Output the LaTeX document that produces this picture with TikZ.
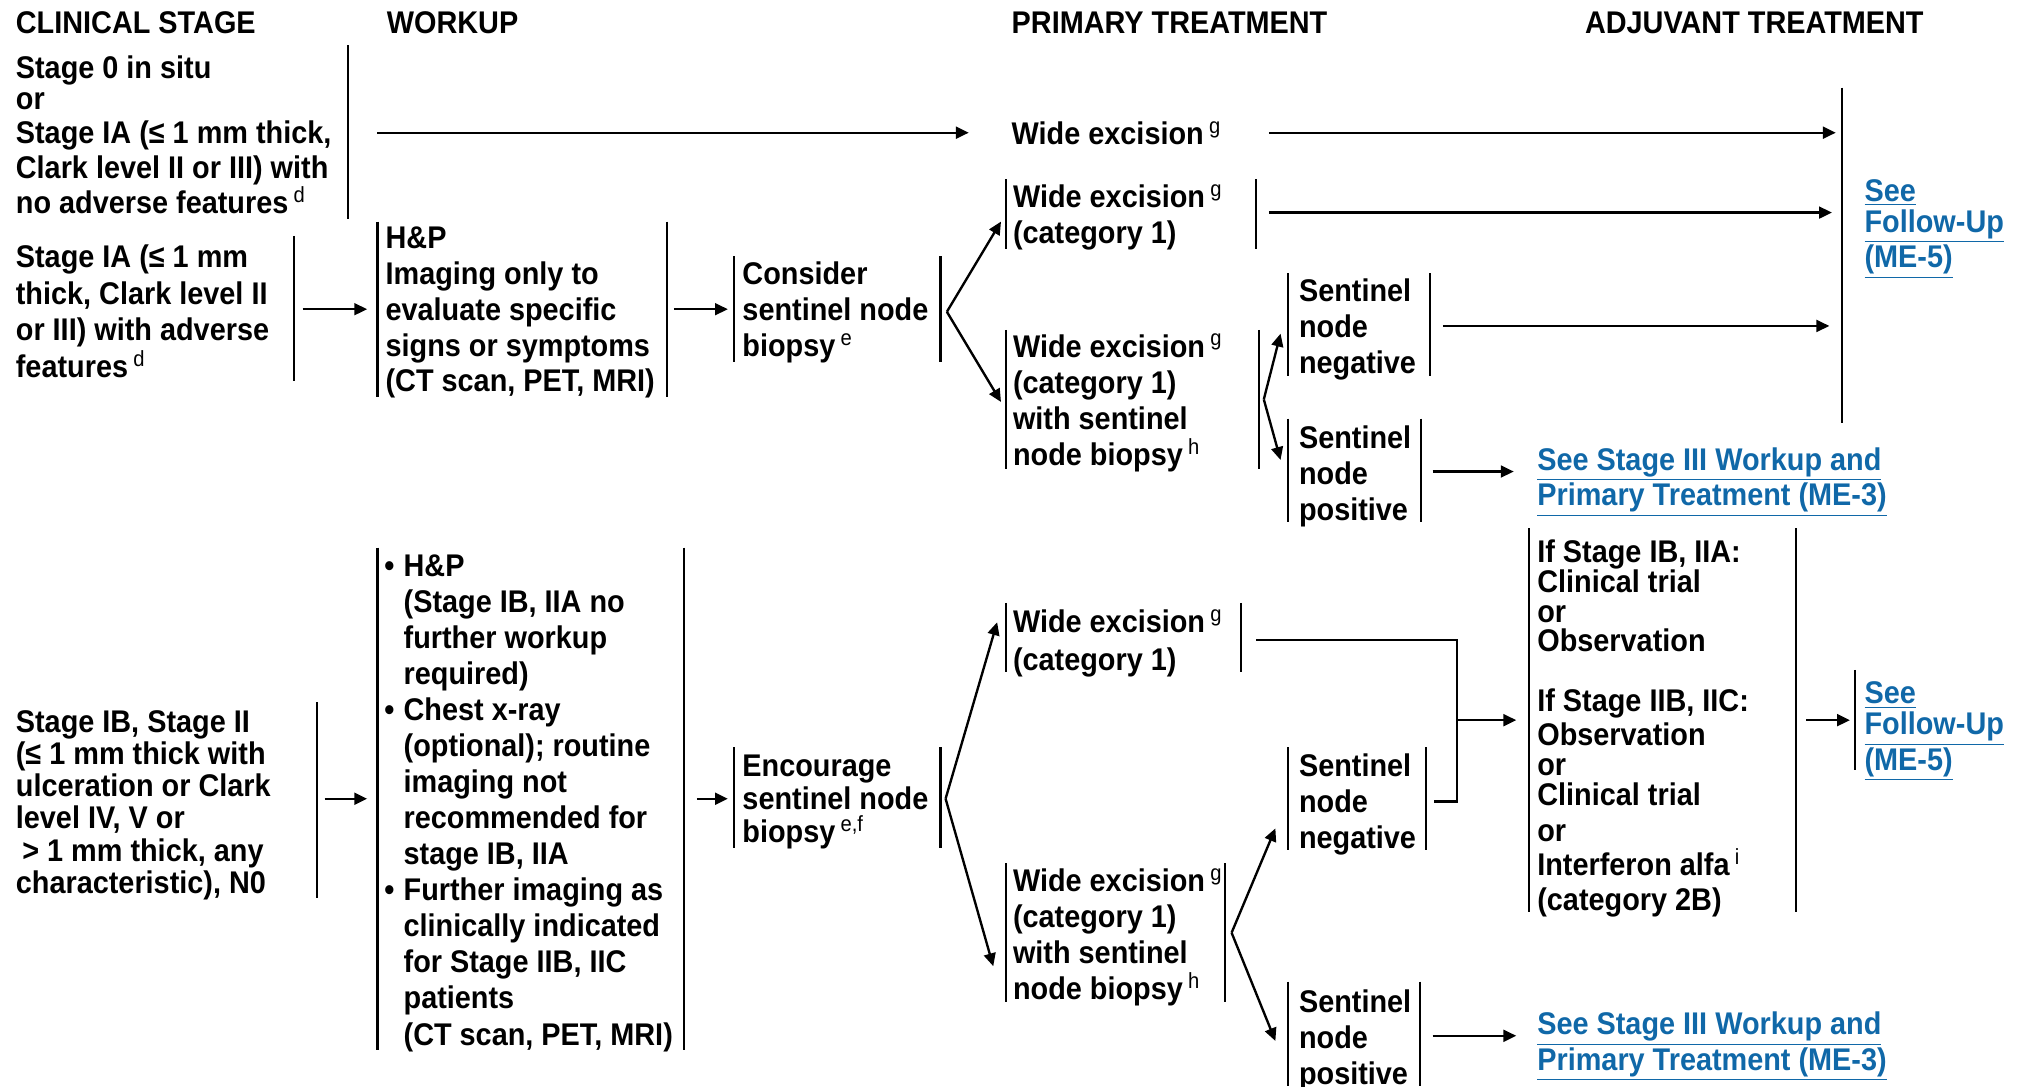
\documentclass[tikz,border=0pt]{standalone}
\usepackage{fontspec}
\setmainfont{Liberation Sans}[FakeStretch=0.92]
\usetikzlibrary{arrows.meta}
\definecolor{linkblue}{RGB}{16,104,168}
\newcommand\fn[1]{\,\textsuperscript{\mdseries #1}}
\newcommand\lk[1]{\underline{#1}}
\begin{document}
\begin{tikzpicture}[x=0.6pt,y=-0.6pt,
  bar/.style={line width=1pt},
  conn/.style={line width=1.1pt},
  arr/.style={line width=1.1pt,-{Triangle[length=6pt,width=5.5pt]}},
  txt/.style={inner sep=0pt,anchor=north west,align=left,font=\bfseries\fontsize{14.6pt}{#1}\selectfont},
  txt/.default=16.8pt,
  link/.style={txt=#1,text=linkblue},
  link/.default=15pt]
\useasboundingbox (0,0) rectangle (1568,843);

% headers
\node[txt] (hClin) at (12,9) {CLINICAL STAGE};
\node[txt] (hWork) at (300,9) {WORKUP};
\node[txt] (hPrim) at (785,9) {PRIMARY TREATMENT};
\node[txt] (hAdj) at (1230,9) {ADJUVANT TREATMENT};

% ---------- upper part ----------
\node[txt=16.2pt] (st0) at (12,43) {Stage 0 in situ\\[-2pt]or\\Stage IA (≤ 1 mm thick,\\Clark level II or III) with\\no adverse features\fn{d}};
\draw[bar] (270,35) -- (270,170);
\coordinate (a1s) at (293,103); \coordinate (a1e) at (752,103);
\draw[arr] (a1s) -- (a1e);
\node[txt] (we0) at (785,94) {Wide excision\fn{g}};
\coordinate (a2s) at (985,103); \coordinate (a2e) at (1425,103);
\draw[arr] (a2s) -- (a2e);
\draw[bar] (1430,68) -- (1430,328);
\node[link=14.4pt] (fu1) at (1447,139) {\lk{See}\\\lk{Follow-Up}\\\lk{(ME-5)}};

\node[txt=17pt] (st1) at (12,190) {Stage IA (≤ 1 mm\\thick, Clark level II\\or III) with adverse\\features\fn{d}};
\draw[bar] (228,183) -- (228,296);
\coordinate (a3s) at (235,240); \coordinate (a3e) at (285,240);
\draw[arr] (a3s) -- (a3e);
\draw[bar] (293,172) -- (293,308) (518,172) -- (518,308);
\node[txt=16.65pt] (hp1) at (299,176) {H\&P\\Imaging only to\\evaluate specific\\signs or symptoms\\(CT scan, PET, MRI)};
\coordinate (a4s) at (523,240); \coordinate (a4e) at (565,240);
\draw[arr] (a4s) -- (a4e);
\draw[bar] (570,199) -- (570,281) (730,199) -- (730,281);
\node[txt] (cs1) at (576,203) {Consider\\sentinel node\\biopsy\fn{e}};
\coordinate (f1) at (735,242);
\coordinate (f1a) at (777,172); \coordinate (f1b) at (777,312);
\draw[arr] (f1) -- (f1a);
\draw[arr] (f1) -- (f1b);

\draw[bar] (781,139) -- (781,193) (975,139) -- (975,193);
\node[txt] (we1) at (786,143) {Wide excision\fn{g}\\(category 1)};
\coordinate (a5s) at (985,165); \coordinate (a5e) at (1422,165);
\draw[arr] (a5s) -- (a5e);

\draw[bar] (781,256) -- (781,364) (977,256) -- (977,364);
\node[txt] (ws1) at (786,259) {Wide excision\fn{g}\\(category 1)\\with sentinel\\node biopsy\fn{h}};
\coordinate (f2) at (981,310);
\coordinate (f2a) at (994,259); \coordinate (f2b) at (994,357);
\draw[arr] (f2) -- (f2a);
\draw[arr] (f2) -- (f2b);

\draw[bar] (1000,212) -- (1000,292) (1110,212) -- (1110,292);
\node[txt] (sn1) at (1008,216) {Sentinel\\node\\negative};
\coordinate (a6s) at (1120,253); \coordinate (a6e) at (1420,253);
\draw[arr] (a6s) -- (a6e);

\draw[bar] (1000,325) -- (1000,405) (1103,325) -- (1103,405);
\node[txt] (sp1) at (1008,330) {Sentinel\\node\\positive};
\coordinate (a7s) at (1112,366); \coordinate (a7e) at (1175,366);
\draw[arr] (a7s) -- (a7e);
\node[link] (lk1) at (1193,347) {\lk{See Stage III Workup and}\\\lk{Primary Treatment (ME-3)}};

% ---------- lower part ----------
\node[txt=15pt] (st2) at (12,551) {Stage IB, Stage II\\(≤ 1 mm thick with\\ulceration or Clark\\level IV, V or\\\hspace{3pt}> 1 mm thick, any\\characteristic), N0};
\draw[bar] (246,545) -- (246,697);
\coordinate (b1s) at (252,620); \coordinate (b1e) at (285,620);
\draw[arr] (b1s) -- (b1e);

\draw[bar] (293,425) -- (293,815) (531,425) -- (531,815);
\node[txt] (hp2) at (298,430) {\makebox[9pt][l]{\textbullet}H\&P\\
\hspace{9pt}(Stage IB, IIA no\\
\hspace{9pt}further workup\\
\hspace{9pt}required)\\
\makebox[9pt][l]{\textbullet}Chest x-ray\\
\hspace{9pt}(optional); routine\\
\hspace{9pt}imaging not\\
\hspace{9pt}recommended for\\
\hspace{9pt}stage IB, IIA\\
\makebox[9pt][l]{\textbullet}Further imaging as\\
\hspace{9pt}clinically indicated\\
\hspace{9pt}for Stage IIB, IIC\\
\hspace{9pt}patients\\
\hspace{9pt}(CT scan, PET, MRI)};
\coordinate (b2s) at (541,620); \coordinate (b2e) at (565,620);
\draw[arr] (b2s) -- (b2e);

\draw[bar] (570,580) -- (570,658) (730,580) -- (730,658);
\node[txt=15.3pt] (en2) at (576,586) {Encourage\\sentinel node\\biopsy\fn{e,f}};
\coordinate (f3) at (734,620);
\coordinate (f3a) at (774,483); \coordinate (f3b) at (771,750);
\draw[arr] (f3) -- (f3a);
\draw[arr] (f3) -- (f3b);

\draw[bar] (781,468) -- (781,522) (963,468) -- (963,522);
\node[txt=17.4pt] (we2) at (786,473) {Wide excision\fn{g}\\(category 1)};
\coordinate (w2o) at (975,497); \coordinate (j1) at (1131,497);
\coordinate (j2) at (1131,622); \coordinate (n2o) at (1113,622);
\draw[conn] (w2o) -- (j1) -- (j2) -- (n2o);
\coordinate (b3s) at (1131,559); \coordinate (b3e) at (1177,559);
\draw[arr] (b3s) -- (b3e);

\draw[bar] (781,670) -- (781,778) (951,670) -- (951,778);
\node[txt] (ws2) at (786,674) {Wide excision\fn{g}\\(category 1)\\with sentinel\\node biopsy\fn{h}};
\coordinate (f4) at (956,724);
\coordinate (f4a) at (990,643); \coordinate (f4b) at (990,808);
\draw[arr] (f4) -- (f4a);
\draw[arr] (f4) -- (f4b);

\draw[bar] (1000,580) -- (1000,660) (1107,580) -- (1107,660);
\node[txt] (sn2) at (1008,585) {Sentinel\\node\\negative};

\draw[bar] (1000,762) -- (1000,843) (1102,762) -- (1102,843);
\node[txt] (sp2) at (1008,768) {Sentinel\\node\\positive};
\coordinate (b4s) at (1112,804); \coordinate (b4e) at (1177,804);
\draw[arr] (b4s) -- (b4e);
\node[link] (lk2) at (1193,785) {\lk{See Stage III Workup and}\\\lk{Primary Treatment (ME-3)}};

\draw[bar] (1187,410) -- (1187,708) (1394,410) -- (1394,708);
\node[txt=13.8pt] (adj) at (1193,419) {If Stage IB, IIA:\\Clinical trial\\or\\Observation\\[13.8pt]
If Stage IIB, IIC:\\[2.4pt]Observation\\or\\Clinical trial\\[3pt]or\\[2.4pt]Interferon alfa\fn{i}\\[2.4pt](category 2B)};
\coordinate (b5s) at (1402,559); \coordinate (b5e) at (1436,559);
\draw[arr] (b5s) -- (b5e);
\draw[bar] (1440,520) -- (1440,598);
\node[link=14.4pt] (fu2) at (1447,529) {\lk{See}\\\lk{Follow-Up}\\\lk{(ME-5)}};
\end{tikzpicture}
\end{document}
